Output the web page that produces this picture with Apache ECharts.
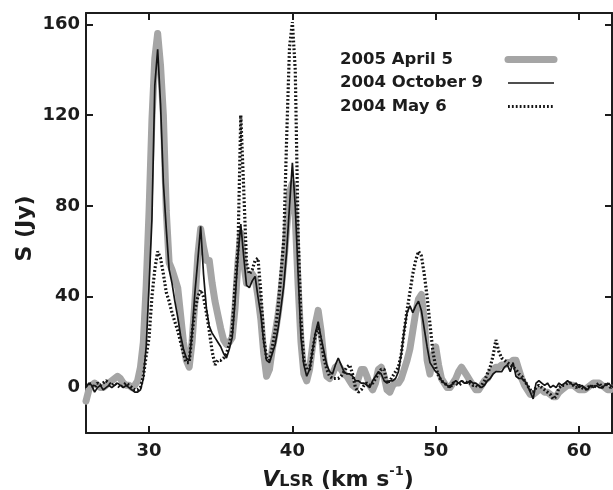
<!DOCTYPE html>
<html>
<head>
<meta charset="utf-8">
<script src="https://cdn.jsdelivr.net/npm/echarts@6/dist/echarts.min.js"></script>
<style>
  html, body { margin: 0; padding: 0; background: #ffffff; }
  #chart { width: 613px; height: 490px; }
</style>
</head>
<body>
<div id="chart"></div>
<script>
// Channel velocities (km/s), one row per whole km/s
const velocity = [
  25.6, 25.8,
  26.0, 26.2, 26.4, 26.6, 26.8,
  27.0, 27.2, 27.4, 27.6, 27.8,
  28.0, 28.2, 28.4, 28.6, 28.8,
  29.0, 29.2, 29.4, 29.6, 29.8,
  30.0, 30.2, 30.4, 30.6, 30.8,
  31.0, 31.2, 31.4, 31.6, 31.8,
  32.0, 32.2, 32.4, 32.6, 32.8,
  33.0, 33.2, 33.4, 33.6, 33.8,
  34.0, 34.2, 34.4, 34.6, 34.8,
  35.0, 35.2, 35.4, 35.6, 35.8,
  36.0, 36.2, 36.4, 36.6, 36.8,
  37.0, 37.2, 37.4, 37.6, 37.8,
  38.0, 38.2, 38.4, 38.6, 38.8,
  39.0, 39.2, 39.4, 39.6, 39.8,
  40.0, 40.2, 40.4, 40.6, 40.8,
  41.0, 41.2, 41.4, 41.6, 41.8,
  42.0, 42.2, 42.4, 42.6, 42.8,
  43.0, 43.2, 43.4, 43.6, 43.8,
  44.0, 44.2, 44.4, 44.6, 44.8,
  45.0, 45.2, 45.4, 45.6, 45.8,
  46.0, 46.2, 46.4, 46.6, 46.8,
  47.0, 47.2, 47.4, 47.6, 47.8,
  48.0, 48.2, 48.4, 48.6, 48.8,
  49.0, 49.2, 49.4, 49.6, 49.8,
  50.0, 50.2, 50.4, 50.6, 50.8,
  51.0, 51.2, 51.4, 51.6, 51.8,
  52.0, 52.2, 52.4, 52.6, 52.8,
  53.0, 53.2, 53.4, 53.6, 53.8,
  54.0, 54.2, 54.4, 54.6, 54.8,
  55.0, 55.2, 55.4, 55.6, 55.8,
  56.0, 56.2, 56.4, 56.6, 56.8,
  57.0, 57.2, 57.4, 57.6, 57.8,
  58.0, 58.2, 58.4, 58.6, 58.8,
  59.0, 59.2, 59.4, 59.6, 59.8,
  60.0, 60.2, 60.4, 60.6, 60.8,
  61.0, 61.2, 61.4, 61.6, 61.8,
  62.0, 62.2, 62.4
];

// Flux density S (Jy) for each epoch, same channels as above
const april2005 = [
  -6, -1,
  1, 2, 1, 0, 0,
  1, 2, 3, 4, 5,
  4, 2, 1, 1, 0,
  1, 3, 9, 20, 45,
  78, 118, 145, 156, 142,
  120, 78, 55, 52, 48,
  44, 32, 20, 12, 9,
  20, 38, 58, 70, 62,
  56, 56, 46, 38, 32,
  26, 21, 19, 20, 22,
  35, 55, 68, 55, 46,
  48, 50, 48, 40, 30,
  15, 5, 8, 17, 24,
  32, 42, 55, 70, 86,
  90, 75, 45, 20, 6,
  3, 8, 18, 28, 34,
  25, 12, 5, 4, 6,
  9, 10, 8, 6, 5,
  3, 1, 0, 4, 8,
  8, 5, 1, -1, 2,
  8, 9, 5, -1, -2,
  1, 2, 2, 4, 8,
  12, 17, 25, 33, 39,
  41, 30, 12, 6, 14,
  18, 10, 4, 2, 0,
  0, 2, 4, 7, 9,
  7, 5, 3, 1, -1,
  -1, 1, 3, 4, 6,
  8, 9, 9, 10, 10,
  11, 11, 12, 12, 8,
  4, 1, -1, -3, -3,
  -2, -1, -1, -2, -2,
  -3, -4, -4, -2, -1,
  0, 1, 1, 1, 0,
  -1, -1, -1, 0, 1,
  2, 2, 2, 1, 0,
  -1, -1, 0
];

const october2004 = [
  0, 2,
  1, -2, 0, 1, -1,
  0, 1, 0, 1, 2,
  1, 0, 1, 0, -1,
  -2, -2, -1, 4, 18,
  45, 74, 133, 149, 125,
  90, 70, 52, 46, 38,
  31, 23, 17, 13, 12,
  24, 42, 56, 71, 50,
  35, 27, 24, 22, 20,
  18, 15, 13, 17, 22,
  38, 58, 72, 58, 45,
  44, 47, 49, 40, 32,
  20, 12, 11, 15, 19,
  26, 35, 45, 60, 80,
  99, 80, 50, 22, 10,
  5, 8, 16, 24, 29,
  22, 16, 10, 7, 6,
  10, 13, 10, 7, 6,
  6, 5, 3, 3, 2,
  2, 1, 0, 3, 5,
  7, 6, 3, 2, 3,
  3, 4, 7, 15, 25,
  33, 36, 33, 36, 38,
  34, 26, 18, 11, 9,
  7, 6, 3, 2, 1,
  0, 2, 3, 2, 3,
  2, 2, 3, 2, 2,
  1, 0, 1, 3, 4,
  6, 7, 7, 7, 9,
  10, 7, 11, 5, 4,
  4, 3, 1, -2, -5,
  2, 3, 2, 1, 2,
  0, 1, 0, 2, 1,
  2, 3, 2, 1, 2,
  0, 1, 0, -1, 1,
  0, 1, 0, 0, 1,
  2, 1, 0
];

const may2004 = [
  1, 2,
  1, 0, 2, 1, 2,
  3, 2, 1, 2, 1,
  0, 1, 2, 1, 0,
  -1, -1, 0, 5, 14,
  22, 40, 52, 60, 57,
  50, 42, 38, 33, 29,
  25, 20, 15, 11, 11,
  24, 34, 40, 43, 40,
  33, 25, 16, 10, 12,
  12, 13, 15, 19, 25,
  45, 60, 120, 88, 55,
  50, 52, 56, 57, 42,
  22, 13, 12, 18, 25,
  35, 50, 65, 110, 150,
  161, 140, 68, 30, 12,
  8, 8, 16, 23, 27,
  20, 13, 8, 5, 4,
  4, 4, 5, 7, 9,
  10, 6, 0, -2, -1,
  1, 2, 1, 2, 4,
  6, 8, 8, 2, 3,
  5, 7, 9, 15, 25,
  34, 42, 50, 56, 60,
  58, 50, 40, 28, 16,
  9, 5, 3, 2, 1,
  0, 2, 2, 1, 2,
  3, 2, 2, 1, 1,
  0, 1, 3, 6, 9,
  14, 21, 16, 13, 12,
  11, 10, 9, 8, 6,
  5, 3, 1, -1, -2,
  0, 1, 0, -1, -2,
  -3, -5, -4, 0, 1,
  1, 2, 2, 1, 0,
  1, 0, -1, 0, 1,
  0, 1, 2, 0, 1,
  2, 0, 1
];

const epochNames = ['2005 April 5', '2004 October 9', '2004 May 6'];
const xTickValues = [30, 40, 50, 60];
const yTickValues = [0, 40, 80, 120, 160];

const FONT = 'DejaVu Sans';
const INK = '#1c1c1c';
const GREY = '#a5a5a5';
const LINE_INK = '#141414';

// line styles shared by the series and their legend samples
const greyStyle = { color: GREY, width: 7, cap: 'round', join: 'round' };
const solidStyle = { color: LINE_INK, width: 1.7 };
const dottedStyle = { color: LINE_INK, width: 3.2, type: [1.8, 2.1] };

function pairs(values) {
  return velocity.map((v, i) => [v, values[i]]);
}

function frameAxis(extra) {
  return Object.assign({
    type: 'value',
    axisLine: { onZero: false, lineStyle: { color: INK, width: 2 } },
    splitLine: { show: false }
  }, extra);
}

const tickStyle = { color: INK, width: 2 };
const labelStyle = { fontFamily: FONT, fontSize: 18, fontWeight: 'bold', color: INK };
const hiddenMarker = { color: 'rgba(0,0,0,0)', borderWidth: 0, opacity: 0 };

const chart = echarts.init(document.getElementById('chart'), null, { renderer: 'canvas' });

chart.setOption({
  animation: false,
  backgroundColor: '#ffffff',
  grid: { left: 86, right: 1, top: 13, bottom: 57, outerBoundsMode: 'none', containLabel: false },
  legend: {
    data: [
      { name: epochNames[0], itemStyle: hiddenMarker, lineStyle: greyStyle },
      { name: epochNames[1], itemStyle: hiddenMarker, lineStyle: solidStyle },
      { name: epochNames[2], itemStyle: hiddenMarker, lineStyle: dottedStyle }
    ],
    orient: 'vertical',
    left: 340,
    top: 51,
    padding: 0,
    align: 'right',
    itemWidth: 46,
    itemHeight: 10,
    itemGap: 6.5,
    selectedMode: false,
    formatter: name => '{t|' + name + '}',
    textStyle: {
      rich: {
        t: { width: 163, align: 'left', fontFamily: FONT, fontSize: 16.5, fontWeight: 'bold', color: INK, lineHeight: 20 }
      }
    }
  },
  xAxis: [
    frameAxis({
      position: 'bottom',
      min: 25.6, max: 62.3,
      axisTick: { inside: true, length: 7, customValues: xTickValues, lineStyle: tickStyle },
      axisLabel: Object.assign({ customValues: xTickValues, margin: 9 }, labelStyle),
      name: '{v|V}{s|LSR}{n| (km s}{p|-1}{n|)}',
      nameLocation: 'middle',
      nameGap: 31,
      nameTextStyle: {
        padding: [0, 22, 0, 0],
        rich: {
          v: { fontFamily: FONT, fontSize: 22, fontWeight: 'bold', fontStyle: 'italic', color: INK, verticalAlign: 'bottom', lineHeight: 26 },
          s: { fontFamily: FONT, fontSize: 16, fontWeight: 'bold', color: INK, verticalAlign: 'bottom', lineHeight: 26, padding: [0, 0, 1, 0] },
          n: { fontFamily: FONT, fontSize: 22, fontWeight: 'bold', color: INK, verticalAlign: 'bottom', lineHeight: 26 },
          p: { fontFamily: FONT, fontSize: 13, fontWeight: 'bold', color: INK, verticalAlign: 'top', lineHeight: 26 }
        }
      }
    }),
    frameAxis({
      position: 'top',
      min: 25.6, max: 62.3,
      axisTick: { inside: true, length: 7, customValues: xTickValues, lineStyle: tickStyle },
      axisLabel: { show: false }
    })
  ],
  yAxis: [
    frameAxis({
      position: 'left',
      min: -20, max: 165,
      axisTick: { inside: true, length: 7, customValues: yTickValues, lineStyle: tickStyle },
      axisLabel: Object.assign({ customValues: yTickValues, margin: 6, padding: [8, 0, 0, 0] }, labelStyle),
      name: 'S (Jy)',
      nameLocation: 'middle',
      nameGap: 50,
      nameMoveOverlap: false,
      nameTextStyle: { fontFamily: FONT, fontSize: 22, fontWeight: 'bold', color: INK, padding: [0, 11, 0, 0] }
    }),
    frameAxis({
      position: 'right',
      min: -20, max: 165,
      axisTick: { inside: true, length: 7, customValues: yTickValues, lineStyle: tickStyle },
      axisLabel: { show: false }
    })
  ],
  series: [
    {
      name: epochNames[0],
      type: 'line',
      data: pairs(april2005),
      symbol: 'none',
      z: 1,
      lineStyle: greyStyle,
      itemStyle: { color: GREY }
    },
    {
      name: epochNames[2],
      type: 'line',
      data: pairs(may2004),
      symbol: 'none',
      z: 2,
      lineStyle: dottedStyle,
      itemStyle: { color: LINE_INK }
    },
    {
      name: epochNames[1],
      type: 'line',
      data: pairs(october2004),
      symbol: 'none',
      z: 3,
      lineStyle: solidStyle,
      itemStyle: { color: LINE_INK }
    }
  ]
});
</script>
</body>
</html>
